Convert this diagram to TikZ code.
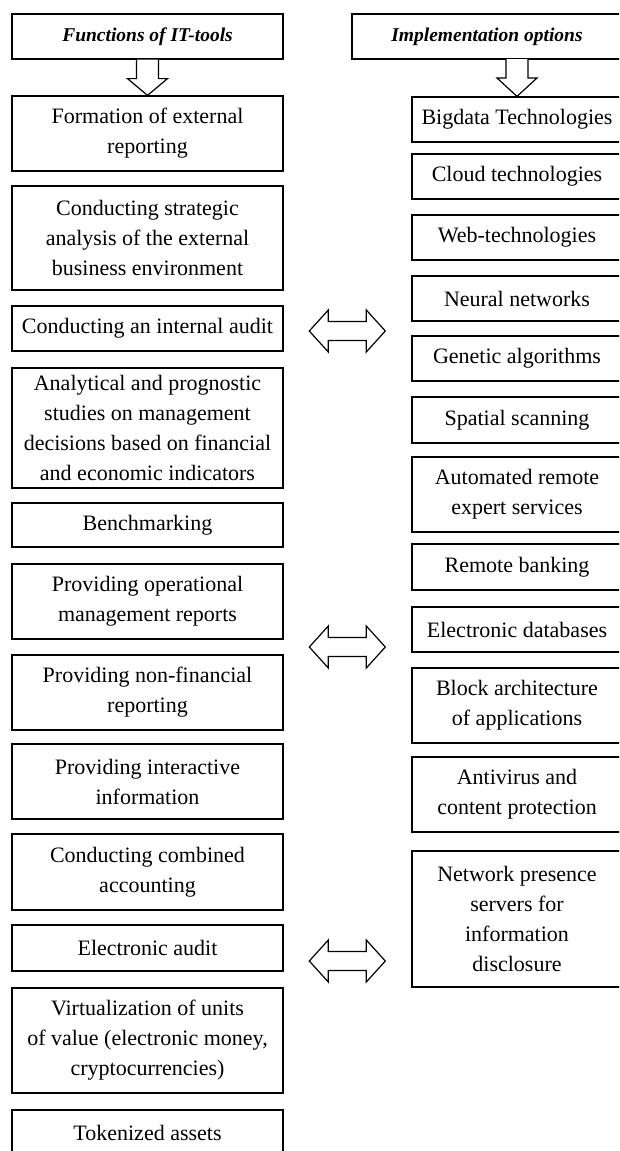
\documentclass[tikz,border=0pt]{standalone}
\usepackage{fontspec}
\setmainfont{Liberation Serif}
\usetikzlibrary{calc}
\tikzset{
  box/.style={draw=black, line width=1.2pt, fill=white, inner sep=0pt, align=center,
    font=\fontsize{22}{30}\selectfont},
  lbox/.style={box, minimum width=271pt},
  rbox/.style={box, minimum width=210pt},
  headbox/.style={draw=black, line width=1.2pt, inner sep=0pt, minimum height=45pt,
    font=\fontsize{19.5}{24}\selectfont\bfseries\itshape},
  blockarrow/.style={draw=black, line width=1.2pt, fill=white, line join=miter},
  pics/dblarrow/.style={code={
    \draw[blockarrow] (-38pt,0) -- (-19pt,21pt) -- (-19pt,9.5pt) -- (19pt,9.5pt) -- (19pt,21pt)
      -- (38pt,0) -- (19pt,-21pt) -- (19pt,-9.5pt) -- (-19pt,-9.5pt) -- (-19pt,-21pt) -- cycle;
  }}
}
\begin{document}
\begin{tikzpicture}[x=1pt,y=1pt]
\path[use as bounding box, clip] (0,0) rectangle (619,-1151);
\fill[white] (0,0) rectangle (619,-1151);

% headers
\node[headbox, minimum width=271pt] (h1) at (147.5,-36.5) {Functions of IT-tools};
\node[headbox, minimum width=270pt] (h2) at (487,-36.5) {Implementation options};

% left column
\node[lbox, minimum height=75pt]  (f1)  at (147.5,-133.5) {Formation of external\\reporting};
\node[lbox, minimum height=104pt] (f2)  at (147.5,-238) {Conducting strategic\\analysis of the external\\business environment};
\node[lbox, minimum height=45pt]  (f3)  at (147.5,-328.5) {Conducting an internal audit};
\node[lbox, minimum height=120pt] (f4)  at (147.5,-428) {Analytical and prognostic\\studies on management\\decisions based on financial\\and economic indicators};
\node[lbox, minimum height=44pt]  (f5)  at (147.5,-525) {Benchmarking};
\node[lbox, minimum height=75pt]  (f6)  at (147.5,-601.5) {Providing operational\\management reports};
\node[lbox, minimum height=75pt]  (f7)  at (147.5,-692.5) {Providing non-financial\\reporting};
\node[lbox, minimum height=75pt]  (f8)  at (147.5,-781.5) {Providing interactive\\information};
\node[lbox, minimum height=76pt]  (f9)  at (147.5,-872) {Conducting combined\\accounting};
\node[lbox, minimum height=46pt]  (f10) at (147.5,-948) {Electronic audit};
\node[lbox, minimum height=105pt] (f11) at (147.5,-1040.5) {Virtualization of units\\of value (electronic money,\\cryptocurrencies)};
\node[lbox, minimum height=46pt]  (f12) at (147.5,-1133) {Tokenized assets};

% right column
\node[rbox, minimum height=45pt]  (r1)  at (517,-119.5) {Bigdata Technologies};
\node[rbox, minimum height=45pt]  (r2)  at (517,-176.5) {Cloud technologies};
\node[rbox, minimum height=45pt]  (r3)  at (517,-237.5) {Web-technologies};
\node[rbox, minimum height=45pt]  (r4)  at (517,-298.5) {Neural networks};
\node[rbox, minimum height=45pt]  (r5)  at (517,-358.5) {Genetic algorithms};
\node[rbox, minimum height=46pt]  (r6)  at (517,-420) {Spatial scanning};
\node[rbox, minimum height=75pt]  (r7)  at (517,-494.5) {Automated remote\\expert services};
\node[rbox, minimum height=46pt]  (r8)  at (517,-567) {Remote banking};
\node[rbox, minimum height=45pt]  (r9)  at (517,-629.5) {Electronic databases};
\node[rbox, minimum height=75pt]  (r10) at (517,-705.5) {Block architecture\\of applications};
\node[rbox, minimum height=75pt]  (r11) at (517,-794.5) {Antivirus and\\content protection};
\node[rbox, minimum height=136pt] (r12) at (517,-919) {Network presence\\servers for\\information\\disclosure};

% down arrows
\coordinate (a1s) at (h1.south);
\coordinate (a1e) at (f1.north);
\draw[blockarrow] ($(a1s)+(-11pt,0)$) -- ($(a1s)+(-11pt,-19pt)$) -- ($(a1s)+(-20pt,-19pt)$)
  -- (a1e) -- ($(a1s)+(20pt,-19pt)$) -- ($(a1s)+(11pt,-19pt)$) -- ($(a1s)+(11pt,0)$);
\coordinate (a2s) at (517,-59);
\coordinate (a2e) at (r1.north);
\draw[blockarrow] ($(a2s)+(-11pt,0)$) -- ($(a2s)+(-11pt,-19pt)$) -- ($(a2s)+(-20pt,-19pt)$)
  -- (a2e) -- ($(a2s)+(20pt,-19pt)$) -- ($(a2s)+(11pt,-19pt)$) -- ($(a2s)+(11pt,0)$);

% double arrows
\pic (d1) at (347.3,-331) {dblarrow};
\pic (d2) at (347.3,-647) {dblarrow};
\pic (d3) at (347.3,-961) {dblarrow};
\end{tikzpicture}
\end{document}
